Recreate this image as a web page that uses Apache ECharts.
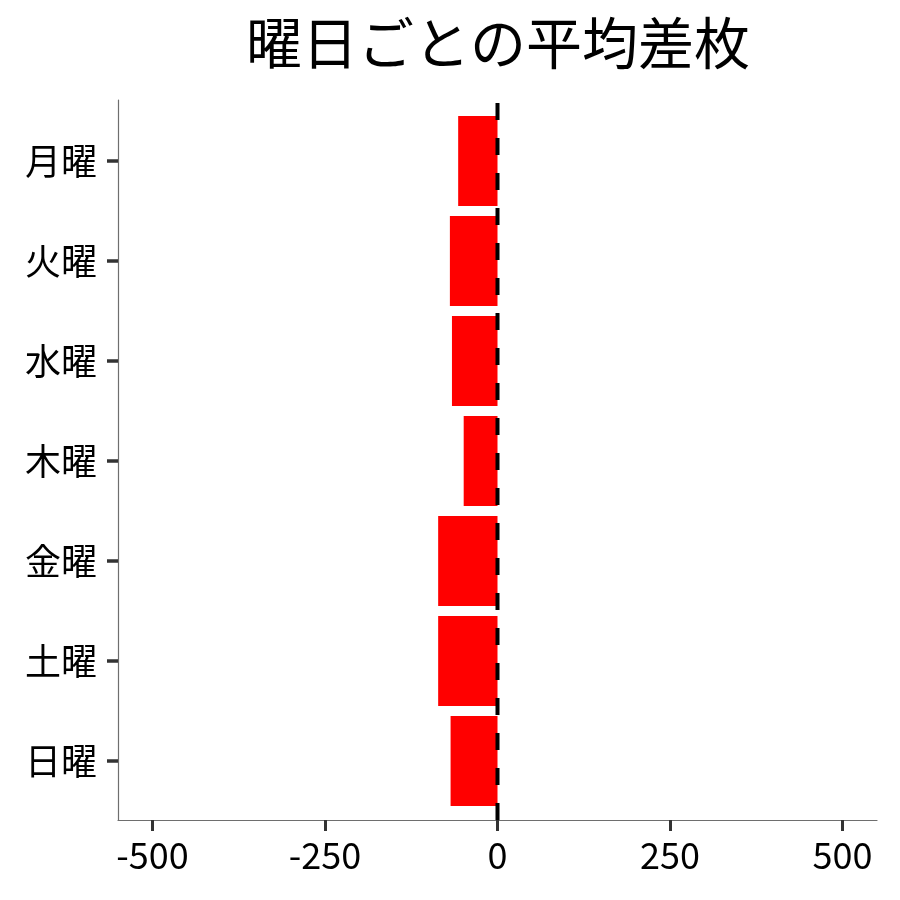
<!DOCTYPE html>
<html>
<head>
<meta charset="utf-8">
<script src="https://cdn.jsdelivr.net/npm/echarts@6/dist/echarts.min.js"></script>
<style>
  html, body { margin: 0; padding: 0; background: #fff; }
  #chart { width: 900px; height: 900px; }
</style>
</head>
<body>
<div id="chart"></div>
<script>
// 曜日ごとの平均差枚
var days = ['月曜', '火曜', '水曜', '木曜', '金曜', '土曜', '日曜'];
var avgDiff = [-57, -69, -66, -49, -86, -86, -68];
var xTicks = [-500, -250, 0, 250, 500];
var xRange = [-550, 550];
var refLineX = 0;

var font = '"Noto Sans CJK JP", "Noto Sans", sans-serif';

var myChart = echarts.init(document.getElementById('chart'));
var option = {
    animation: false,
    title: {
        text: '曜日ごとの平均差枚',
        left: 493,
        top: 10,
        textAlign: 'center',
        textStyle: { fontFamily: font, fontSize: 56, fontWeight: 'normal', color: '#000' }
    },
    // grid 0: 軸線と点線, grid 1: 棒
    grid: [
        { left: 118, right: 23, top: 100, bottom: 80 },
        { left: 118, right: 23, top: 111, bottom: 89 }
    ],
    xAxis: [
        {
            type: 'value', gridIndex: 0, min: xRange[0], max: xRange[1],
            axisLine: { show: true, onZero: false, lineStyle: { color: '#6e6e6e', width: 1.2 } },
            axisTick: { show: true, customValues: xTicks, length: 11, lineStyle: { color: '#333', width: 3 } },
            axisLabel: { customValues: xTicks, margin: 17, fontFamily: font, fontSize: 36, color: '#000' },
            splitLine: { show: false }
        },
        { type: 'value', gridIndex: 1, min: xRange[0], max: xRange[1], show: false }
    ],
    yAxis: [
        {
            type: 'value', gridIndex: 0, min: 0, max: 1,
            axisLine: { show: true, onZero: false, lineStyle: { color: '#6e6e6e', width: 1.2 } },
            axisTick: { show: false }, axisLabel: { show: false }, splitLine: { show: false }
        },
        {
            type: 'category', gridIndex: 1, data: days, inverse: true,
            axisLine: { show: false, onZero: false },
            axisTick: { show: true, alignWithLabel: true, length: 11, lineStyle: { color: '#333', width: 3.5 } },
            axisLabel: { margin: 21, fontFamily: font, fontSize: 36, color: '#000' },
            splitLine: { show: false }
        }
    ],
    series: [
        {
            type: 'bar', xAxisIndex: 1, yAxisIndex: 1,
            data: avgDiff,
            barCategoryGap: '10%',
            itemStyle: { color: '#ff0000' },
            z: 2
        },
        {
            type: 'line', xAxisIndex: 0, yAxisIndex: 0,
            data: [[refLineX, 0], [refLineX, 1]],
            symbol: 'none',
            lineStyle: { color: '#000', width: 4, type: [17, 18] },
            z: 5
        }
    ]
};
myChart.setOption(option);
</script>
</body>
</html>
